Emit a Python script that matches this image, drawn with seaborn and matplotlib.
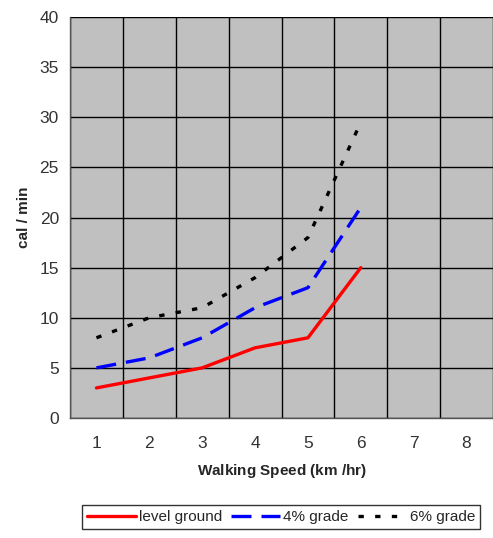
import matplotlib
matplotlib.use("Agg")
import matplotlib.pyplot as plt
import seaborn as sns
import pandas as pd

speed = [1, 2, 3, 4, 5, 6]
level_ground = [3, 4, 5, 7, 8, 15]
grade_4 = [5, 6, 8, 11, 13, 21]
grade_6 = [8, 10, 11, 14, 18, 29.5]
series_names = ["level ground", "4% grade", "6% grade"]

df = pd.DataFrame({
    "speed": speed * 3,
    "cal": level_ground + grade_4 + grade_6,
    "series": [series_names[0]] * 6 + [series_names[1]] * 6 + [series_names[2]] * 6,
})

sns.set_style("white")
plt.rcParams["font.family"] = ["Liberation Sans", "DejaVu Sans"]

fig = plt.figure(figsize=(4.93, 5.38), dpi=100)
ax = fig.add_axes([70 / 493, 1 - 418 / 538, 1 - 70 / 493, (418 - 17) / 538])
ax.set_facecolor("#c0c0c0")

palette = {"level ground": "#ff0000", "4% grade": "#0000ff", "6% grade": "#000000"}
dashes = {"level ground": "", "4% grade": (6, 3), "6% grade": (1.6, 3.4)}
sns.lineplot(data=df, x="speed", y="cal", hue="series", style="series",
             palette=palette, dashes=dashes, linewidth=2.4, ax=ax, legend=True)

ax.set_xlim(0.5, 0.5 + (493 - 70) / 53.6)
ax.set_ylim(0, 40)
ax.set_yticks(range(0, 41, 5))
ax.set_xticks([i + 0.5 for i in range(0, 9)])
ax.set_xticklabels([])
ax.set_xticks(range(1, 9), minor=True)
ax.set_xticklabels([str(i) for i in range(1, 9)], minor=True)
ax.tick_params(axis="x", which="minor", length=0, labelsize=12.5, pad=13, labelcolor="#333333")
ax.tick_params(axis="x", which="major", length=5, width=1, color="black", direction="out")
ax.tick_params(axis="y", length=5, width=1, color="black", direction="out", labelsize=12.5,
               labelcolor="#333333", pad=3)
ax.grid(True, which="major", color="black", linewidth=1)
ax.set_axisbelow(True)

for side in ["left", "bottom"]:
    ax.spines[side].set_color("#555555")
    ax.spines[side].set_linewidth(1)
for side in ["top", "right"]:
    ax.spines[side].set_visible(False)

ax.set_ylabel("cal / min", fontsize=11, fontweight="bold", labelpad=6)
ax.set_xlabel(r"Walking Speed ($\mathregular{km}$ /hr)", fontsize=11, fontweight="bold", labelpad=8)

handles, labels = ax.get_legend_handles_labels()
ax.legend_.remove()
leg = fig.legend(handles, labels, loc="center", bbox_to_anchor=(0.57, 1 - 517 / 538),
                 ncol=3, fontsize=11, frameon=True, fancybox=False,
                 handlelength=3.2, handletextpad=0.2, columnspacing=0.6,
                 borderpad=0.3, edgecolor="black")
leg.get_frame().set_linewidth(1)

fig.savefig("out.png", dpi=100)
